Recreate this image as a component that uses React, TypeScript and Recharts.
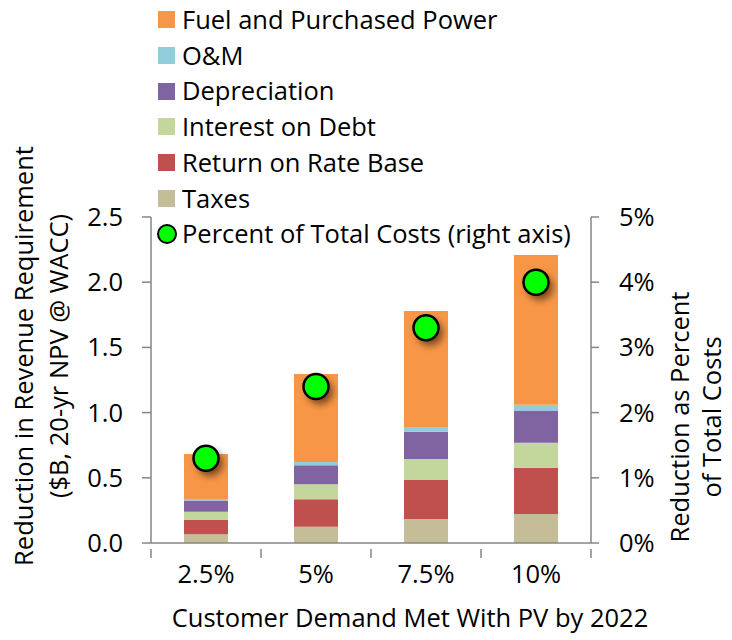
import React from 'react';
import { ComposedChart, Bar, Line, XAxis, YAxis, Legend } from 'recharts';

const categories = ['2.5%', '5%', '7.5%', '10%'];
const taxes = [0.067, 0.125, 0.184, 0.222];
const returnOnRateBase = [0.109, 0.21, 0.299, 0.356];
const interestOnDebt = [0.064, 0.115, 0.161, 0.191];
const depreciation = [0.085, 0.146, 0.21, 0.248];
const oandm = [0.012, 0.025, 0.036, 0.044];
const fuel = [0.346, 0.675, 0.889, 1.148];
const percentOfTotal = [1.3, 2.4, 3.3, 4.0];
const leftTicks = [0, 0.5, 1, 1.5, 2, 2.5];
const rightTicks = [0, 1, 2, 3, 4, 5];

const data = categories.map((c, i) => ({
  name: c,
  taxes: taxes[i],
  ret: returnOnRateBase[i],
  interest: interestOnDebt[i],
  dep: depreciation[i],
  om: oandm[i],
  fuel: fuel[i],
  pct: percentOfTotal[i],
}));

const FONT = '"Open Sans", sans-serif';
const FS = 25.5;
const AXIS = '#868686';

const legendItems = [
  { label: 'Fuel and Purchased Power', color: '#F79646' },
  { label: 'O&M', color: '#92CDDC' },
  { label: 'Depreciation', color: '#8064A2' },
  { label: 'Interest on Debt', color: '#C3D69B' },
  { label: 'Return on Rate Base', color: '#C0504D' },
  { label: 'Taxes', color: '#C4BD97' },
];

function LegendBox() {
  return (
    <div style={{ fontFamily: FONT, fontSize: FS, color: '#000', lineHeight: 1 }}>
      {legendItems.map((it) => (
        <div key={it.label} style={{ display: 'flex', alignItems: 'center', height: 35.7 }}>
          <span style={{ width: 17, height: 17, background: it.color, marginRight: 7, display: 'inline-block' }} />
          <span>{it.label}</span>
        </div>
      ))}
      <div style={{ display: 'flex', alignItems: 'center', height: 35.7 }}>
        <span
          style={{
            width: 16,
            height: 16,
            borderRadius: '50%',
            background: '#00FF00',
            border: '2px solid #000',
            marginLeft: -1,
            marginRight: 5,
            display: 'inline-block',
          }}
        />
        <span>Percent of Total Costs (right axis)</span>
      </div>
    </div>
  );
}

function GreenDot(props: any) {
  const { cx, cy, index } = props;
  if (cx == null || cy == null) return null;
  return (
    <g key={`dot-${index}`}>
      <defs>
        <filter id={`blur-${index}`} x="-60%" y="-60%" width="220%" height="220%">
          <feGaussianBlur stdDeviation="3.5" />
        </filter>
      </defs>
      <circle cx={cx + 4} cy={cy + 5} r={13} fill="#000" opacity={0.5} filter={`url(#blur-${index})`} />
      <circle cx={cx} cy={cy} r={12.5} fill="#00FF00" stroke="#000" strokeWidth={2.5} />
    </g>
  );
}

// category label at band centre, tick marks at band edges
function CategoryTick(props: any) {
  const { x, y, payload, index, visibleTicksCount } = props;
  const half = payload.offset || 0;
  const top = y - 25;
  return (
    <g>
      <line x1={x - half} y1={top} x2={x - half} y2={top + 9} stroke={AXIS} strokeWidth={1.5} />
      {index === visibleTicksCount - 1 && (
        <line x1={x + half} y1={top} x2={x + half} y2={top + 9} stroke={AXIS} strokeWidth={1.5} />
      )}
      <text x={x} y={y} dy="0.35em" textAnchor="middle" fontFamily={FONT} fontSize={FS} fill="#000">
        {payload.value}
      </text>
    </g>
  );
}

function RotTitle({ x, y, lines, gap }: { x: number; y: number; lines: string[]; gap: number }) {
  return (
    <g transform={`translate(${x},${y}) rotate(-90)`}>
      {lines.map((l, i) => (
        <text key={l} x={0} y={i * gap} fontFamily={FONT} fontSize={FS} fill="#000" textAnchor="middle">
          {l}
        </text>
      ))}
    </g>
  );
}

export default function App() {
  return (
    <div style={{ position: 'absolute', left: 0, top: 0, width: 732, height: 640, background: '#fff' }}>
      <ComposedChart
        width={732}
        height={640}
        data={data}
        margin={{ top: 217, right: 81, bottom: 57, left: 91 }}
        barCategoryGap="30%"
      >
        <XAxis
          dataKey="name"
          height={40}
          axisLine={{ stroke: AXIS, strokeWidth: 1.5 }}
          tickLine={false}
          tick={<CategoryTick />}
          tickMargin={25}
          label={() => (
            <text x={410} y={618} dy="0.35em" fontFamily={FONT} fontSize={FS} fill="#000" textAnchor="middle">
              Customer Demand Met With PV by 2022
            </text>
          )}
        />
        <YAxis
          yAxisId="left"
          width={60}
          domain={[0, 2.5]}
          ticks={leftTicks}
          tickFormatter={(v: number) => v.toFixed(1)}
          axisLine={{ stroke: AXIS, strokeWidth: 1.5 }}
          tickLine={{ stroke: AXIS, strokeWidth: 1.5 }}
          tickSize={9}
          tickMargin={19}
          tick={{ fontFamily: FONT, fontSize: FS, fill: '#000' }}
          label={() => (
            <RotTitle
              x={33}
              y={356}
              gap={35}
              lines={['Reduction in Revenue Requirement', '($B, 20-yr NPV @ WACC)']}
            />
          )}
        />
        <YAxis
          yAxisId="right"
          orientation="right"
          width={60}
          domain={[0, 5]}
          ticks={rightTicks}
          tickFormatter={(v: number) => `${v}%`}
          axisLine={{ stroke: AXIS, strokeWidth: 1.5 }}
          tickLine={{ stroke: AXIS, strokeWidth: 1.5 }}
          tickSize={8}
          tickMargin={20}
          tick={{ fontFamily: FONT, fontSize: FS, fill: '#000' }}
          label={() => (
            <RotTitle x={689} y={417} gap={32} lines={['Reduction as Percent', 'of Total Costs']} />
          )}
        />
        <Legend
          verticalAlign="middle"
          align="center"
          layout="vertical"
          content={() => <LegendBox />}
          wrapperStyle={{ position: 'absolute', left: 158, top: 2, width: 520 }}
        />
        <Bar dataKey="taxes" stackId="s" yAxisId="left" fill="#C4BD97" isAnimationActive={false} />
        <Bar dataKey="ret" stackId="s" yAxisId="left" fill="#C0504D" isAnimationActive={false} />
        <Bar dataKey="interest" stackId="s" yAxisId="left" fill="#C3D69B" isAnimationActive={false} />
        <Bar dataKey="dep" stackId="s" yAxisId="left" fill="#8064A2" isAnimationActive={false} />
        <Bar dataKey="om" stackId="s" yAxisId="left" fill="#92CDDC" isAnimationActive={false} />
        <Bar dataKey="fuel" stackId="s" yAxisId="left" fill="#F79646" isAnimationActive={false} />
        <Line
          dataKey="pct"
          yAxisId="right"
          stroke="none"
          dot={(p: any) => <GreenDot {...p} />}
          activeDot={false}
          isAnimationActive={false}
        />
      </ComposedChart>
    </div>
  );
}
